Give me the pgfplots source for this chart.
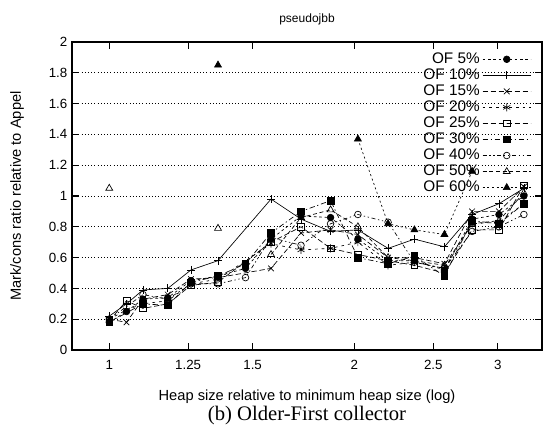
\documentclass[border=0pt]{standalone}
\usepackage{fontspec}
\setmainfont{Liberation Serif}
\setsansfont{Liberation Sans}
\usepackage{pgfplots}
\pgfplotsset{compat=1.18}
\begin{document}
\begin{tikzpicture}
\path[use as bounding box] (-54pt,-60pt) rectangle (357pt,262.5pt);
\begin{axis}[
  name=ax, at={(0,0)}, anchor=south west,
  scale only axis, width=352.5pt, height=231pt,
  xmode=log, xmin=0.9, xmax=3.4, ymin=0, ymax=2,
  xtick={1,1.25,1.5,2,2.5,3}, xticklabels={1,1.25,1.5,2,2.5,3},
  xminorticks=false,
  ytick={0,0.2,0.4,0.6,0.8,1,1.2,1.4,1.6,1.8,2},
  yticklabels={0,0.2,0.4,0.6,0.8,1,1.2,1.4,1.6,1.8,2},
  tick align=inside, major tick length=5pt,
  ymajorgrids, grid style={black, dotted, line width=0.6pt},
  axis line style={line width=1pt},
  tick style={black, line width=0.8pt},
  ticklabel style={font=\sffamily\fontsize{10}{12}\selectfont},
  xticklabel style={yshift=-4pt},
  /pgf/number format/assume math mode=true,
  xlabel={Heap size relative to minimum heap size (log)},
  ylabel={Mark/cons ratio relative to Appel},
  xlabel style={at={(axis description cs:0.5,-0.15)}, anchor=center, font=\sffamily\fontsize{11}{13}\selectfont},
  ylabel style={at={(axis description cs:-0.117,0.5)}, anchor=center, font=\sffamily\fontsize{11}{13}\selectfont},
  unbounded coords=jump,
  legend plot pos=right,
  legend cell align=right,
  legend style={at={(1,1)}, anchor=north east, draw=none, fill=none,
    font=\sffamily\fontsize{11.5}{12}\selectfont, row sep=-1.5pt,
    xshift=-5pt, yshift=-4pt},
  legend image code/.code={\draw[mark repeat=2,mark phase=2,#1] plot coordinates {(0pt,0pt) (18pt,0pt) (36pt,0pt)};},
  every axis plot/.append style={black, line width=0.5pt, mark size=2.5pt, mark options={solid}},
]
% OF 5%
\addplot[dash pattern=on 2pt off 2pt, mark=*] coordinates {
  (1.0,0.18) (1.05,0.25) (1.10,0.33) (1.18,0.34) (1.26,0.45) (1.36,0.48) (1.47,0.53)
  (1.58,0.72) (1.72,0.87) (1.87,0.86) (2.02,0.72) (2.2,0.58) (2.37,0.58) (2.58,0.52)
  (2.79,0.85) (3.01,0.88) (3.23,1.00)
};
% OF 10%
\addplot[solid, mark=+, mark size=3pt] coordinates {
  (1.0,0.22) (1.05,0.30) (1.10,0.39) (1.18,0.40) (1.26,0.52) (1.36,0.58)
  (1.58,0.98) (1.72,0.85) (1.87,0.77) (2.02,0.78) (2.2,0.66) (2.37,0.72) (2.58,0.67)
  (2.79,0.88) (3.01,0.95) (3.23,1.05)
};
% OF 15%
\addplot[dash pattern=on 4pt off 2pt, mark=x, mark size=3pt] coordinates {
  (1.0,0.20) (1.05,0.18) (1.10,0.33) (1.18,0.36) (1.26,0.46) (1.36,0.47)
  (1.58,0.53) (1.72,0.76) (1.87,0.78) (2.02,0.75) (2.2,0.60) (2.37,0.60) (2.58,0.56)
  (2.79,0.90) (3.01,0.90) (3.23,1.06)
};
% OF 20%
\addplot[dash pattern=on 2pt off 3pt, mark=asterisk, mark size=3pt] coordinates {
  (1.0,0.20) (1.05,0.26) (1.10,0.30) (1.18,0.32) (1.26,0.43) (1.36,0.46)
  (1.58,0.69) (1.72,0.65) (1.87,0.66) (2.02,0.70) (2.2,0.55) (2.37,0.57) (2.58,0.53)
  (2.79,0.82) (3.01,0.83) (3.23,0.95)
};
% OF 25%
\addplot[dash pattern=on 4pt off 2pt, mark=square] coordinates {
  (1.0,0.19) (1.05,0.32) (1.10,0.27) (1.18,0.30) (1.26,0.42) (1.36,0.44)
  (1.58,0.70) (1.72,0.80) (1.87,0.66) (2.02,0.62) (2.2,0.58) (2.37,0.55) (2.58,0.50)
  (2.79,0.78) (3.01,0.78) (3.23,1.07)
};
% OF 30%
\addplot[dash pattern=on 4pt off 2pt on 1pt off 2pt, mark=square*] coordinates {
  (1.0,0.18) (1.10,0.30) (1.18,0.29) (1.26,0.44) (1.36,0.48) (1.47,0.56)
  (1.58,0.76) (1.72,0.90) (1.87,0.97) (2.02,0.60) (2.2,0.56) (2.37,0.61) (2.58,0.48)
  (2.79,0.84) (3.01,0.82) (3.23,0.95)
};
% OF 40%
\addplot[dash pattern=on 3pt off 2pt on 1pt off 2pt on 1pt off 2pt, mark=o] coordinates {
  (1.0,0.20) (1.10,0.36) (1.18,0.33) (1.26,0.43) (1.36,0.43) (1.47,0.47)
  (1.58,0.73) (1.72,0.68) (1.87,0.82) (2.02,0.88) (2.2,0.83) (2.37,0.57) (2.58,0.53)
  (2.79,0.77) (3.01,0.80) (3.23,0.88)
};
% OF 50%
\addplot[dash pattern=on 3pt off 2pt, mark=triangle, mark size=3pt] coordinates {
  (1.0,1.05) (1.05,nan) (1.36,0.79) (1.47,nan)
  (1.58,0.62) (1.72,0.86) (1.87,0.91) (2.02,0.80) (2.2,0.60) (2.37,0.58) (2.58,0.55)
  (2.79,0.82) (3.01,0.84) (3.23,1.02)
};
% OF 60%
\addplot[dash pattern=on 1.5pt off 2pt, mark=triangle*, mark size=3pt] coordinates {
  (1.36,1.85) (1.47,nan)
  (2.02,1.37) (2.2,0.82) (2.37,0.78) (2.58,0.75) (2.79,1.16)
};
\legend{OF 5\%,OF 10\%,OF 15\%,OF 20\%,OF 25\%,OF 30\%,OF 40\%,OF 50\%,OF 60\%}
\end{axis}
\node[font=\sffamily\fontsize{9}{11}\selectfont] at ([yshift=17pt]ax.north) {pseudojbb};
\node[font=\rmfamily\fontsize{15.5}{17}\selectfont] at ([yshift=-49pt]ax.south) {(b) Older-First collector};
\end{tikzpicture}
\end{document}
